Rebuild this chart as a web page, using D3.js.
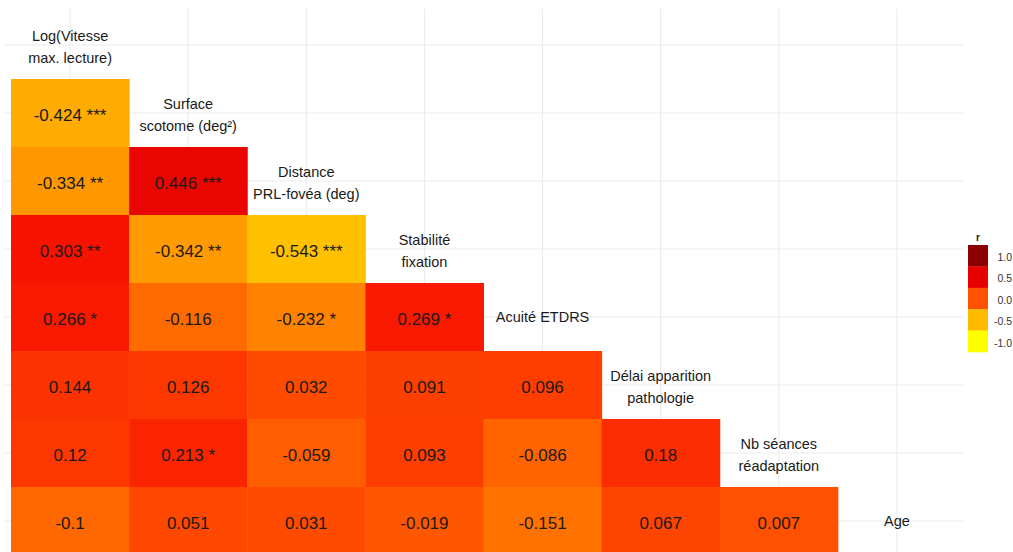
<!DOCTYPE html>
<html>
<head>
<meta charset="utf-8">
<script src="https://cdn.jsdelivr.net/npm/d3@7"></script>
<style>
  body { margin: 0; background: #fff; }
  svg { display: block; font-family: "Liberation Sans", Arial, sans-serif; }
</style>
</head>
<body>
<svg id="chart" width="1013" height="552"></svg>
<script>
// Variables (order of rows/columns)
const variables = [
  "Log(Vitesse\nmax. lecture)",
  "Surface\nscotome (deg²)",
  "Distance\nPRL-fovéa (deg)",
  "Stabilité\nfixation",
  "Acuité ETDRS",
  "Délai apparition\npathologie",
  "Nb séances\nréadaptation",
  "Age"
];
// Lower-triangle correlations: row i holds r with variables 0..i-1
const correlations = [
  [],
  [-0.424],
  [-0.334, 0.446],
  [0.303, -0.342, -0.543],
  [0.266, -0.116, -0.232, 0.269],
  [0.144, 0.126, 0.032, 0.091, 0.096],
  [0.12, 0.213, -0.059, 0.093, -0.086, 0.18],
  [-0.1, 0.051, 0.031, -0.019, -0.151, 0.067, 0.007]
];
const significance = [
  [],
  ["***"],
  ["**", "***"],
  ["**", "**", "***"],
  ["*", "", "*", "*"],
  ["", "", "", "", ""],
  ["", "*", "", "", "", ""],
  ["", "", "", "", "", "", ""]
];
const legendTicks = [1.0, 0.5, 0.0, -0.5, -1.0];
const colorStops = [-1, -0.5, 0, 0.3, 0.5, 1];
const colorValues = ["#FFFF00", "#FFBB00", "#FF5200", "#F81200", "#E60000", "#8B0000"];

const svg = d3.select("#chart");
const keys = variables.map((d, i) => i);

const x = d3.scaleBand().domain(keys).range([11, 956]).padding(0);
const y = d3.scaleBand().domain(keys).range([11, 555]).padding(0);
const color = d3.scaleLinear().domain(colorStops).range(colorValues).clamp(true);

// Grid lines
const grid = svg.append("g");
keys.forEach(k => {
  grid.append("line")
    .attr("x1", x(k) + x.bandwidth() / 2).attr("x2", x(k) + x.bandwidth() / 2)
    .attr("y1", 9).attr("y2", 552)
    .attr("stroke", "#EBEBEB").attr("stroke-width", 1.1);
  grid.append("line")
    .attr("x1", 5).attr("x2", 963)
    .attr("y1", y(k) + y.bandwidth() / 2).attr("y2", y(k) + y.bandwidth() / 2)
    .attr("stroke", "#EBEBEB").attr("stroke-width", 1.1);
});

// Cells
const cells = [];
correlations.forEach((row, r) => row.forEach((v, c) => cells.push({ r, c, v, s: significance[r][c] })));

svg.append("g").selectAll("rect").data(cells).join("rect")
  .attr("x", d => x(d.c))
  .attr("y", d => y(d.r))
  .attr("width", x.bandwidth() + 0.5)
  .attr("height", y.bandwidth() + 0.5)
  .attr("fill", d => color(d.v));

svg.append("g").selectAll("text").data(cells).join("text")
  .attr("x", d => x(d.c) + x.bandwidth() / 2)
  .attr("y", d => y(d.r) + y.bandwidth() / 2 + 4)
  .attr("text-anchor", "middle")
  .attr("dominant-baseline", "middle")
  .attr("font-size", 17)
  .attr("fill", "#1a1a1a")
  .text(d => String(d.v) + (d.s ? " " + d.s : ""));

// Diagonal labels
const lab = svg.append("g");
variables.forEach((name, k) => {
  const lines = name.split("\n");
  const cx = x(k) + x.bandwidth() / 2;
  const cy = y(k) + y.bandwidth() / 2 + (lines.length > 1 ? 3.5 : 1.5);
  const lh = 22;
  const t = lab.append("text")
    .attr("text-anchor", "middle")
    .attr("font-size", 14.5)
    .attr("fill", "#1a1a1a");
  lines.forEach((ln, i) => {
    t.append("tspan")
      .attr("x", cx)
      .attr("y", cy + (i - (lines.length - 1) / 2) * lh)
      .attr("dominant-baseline", "middle")
      .text(ln);
  });
});

// Legend
const lg = svg.append("g");
const bx = 968, bw = 20, by = 245, bh = 21.4;
lg.append("text").attr("x", bx + bw / 2).attr("y", by - 4)
  .attr("text-anchor", "middle").attr("font-size", 10).attr("font-weight", "bold")
  .attr("fill", "#1a1a1a").text("r");
legendTicks.forEach((t, i) => {
  lg.append("rect").attr("x", bx).attr("y", by + i * bh)
    .attr("width", bw).attr("height", bh + 0.3).attr("fill", color(t));
  lg.append("text").attr("x", 1012).attr("y", by + i * bh + bh / 2 + 2.5)
    .attr("text-anchor", "end").attr("dominant-baseline", "middle")
    .attr("font-size", 10.5).attr("fill", "#333")
    .text(d3.format(".1f")(t).replace("\u2212", "-"));
});
</script>
</body>
</html>
